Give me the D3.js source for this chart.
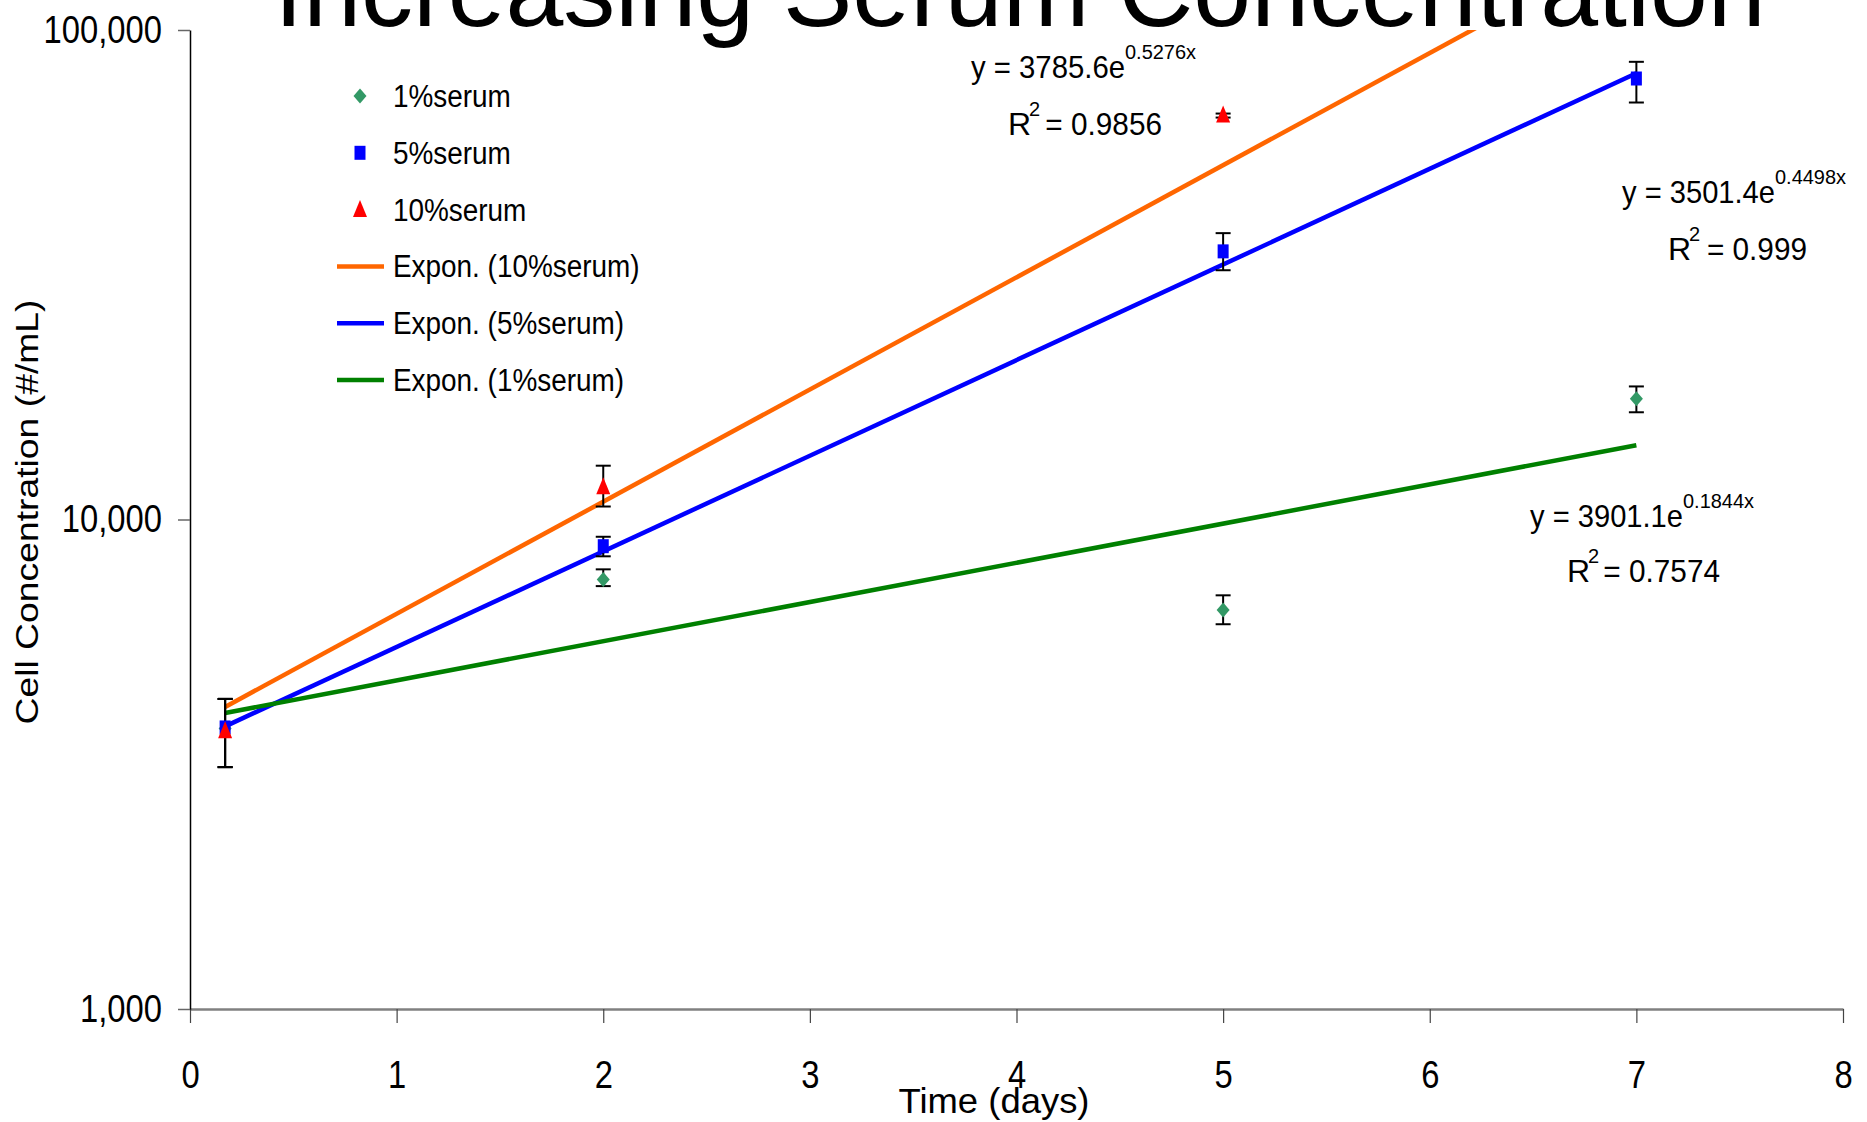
<!DOCTYPE html>
<html>
<head>
<meta charset="utf-8">
<script src="https://cdn.jsdelivr.net/npm/d3@7"></script>
<style>
    body { margin: 0; background: #fff; }
    text { font-family: "Liberation Sans", Arial, sans-serif; fill: #000; }
</style>
</head>
<body>
<div id="chart"></div>
<script>
// cell growth at 1%, 5% and 10% serum, log scale

// svg width and height
const svgWidth = 1867;
const svgHeight = 1122;

// plot box
const margin = { top: 30, right: 24, bottom: 113, left: 190 };
const width = svgWidth - margin.left - margin.right;
const height = svgHeight - margin.top - margin.bottom;

// data
const days = [0.17, 2, 5, 7];
const days10 = [0.17, 2, 5];

const serum1 = [3740, 7545, 6530, 17650];
const serum1Low = [3120, 7310, 6110, 16560];
const serum1High = [4300, 7910, 7000, 18700];

const serum5 = [3760, 8820, 35300, 79600];
const serum5Low = [3120, 8410, 32300, 71100];
const serum5High = [4300, 9220, 38460, 86100];

const serum10 = [3700, 11670, 67080];
const serum10Low = [3120, 10630, 66240];
const serum10High = [4300, 12880, 67500];

// trendline equations as printed on the chart
const fitNames = ["10%serum", "5%serum", "1%serum"];
const fitA = [3785.6, 3501.4, 3901.1];
const fitB = [0.5276, 0.4498, 0.1844];
const fitR2 = ["0.9856", "0.999", "0.7574"];

const xTicks = [0, 1, 2, 3, 4, 5, 6, 7, 8];
const yTicks = [1000, 10000, 100000];

const svg = d3.select("#chart")
    .append("svg")
    .attr("width", svgWidth)
    .attr("height", svgHeight);

// squeeze text a little, the original fonts are narrow
function squeeze(sel, k) {
    sel.each(function() {
        const w = this.getComputedTextLength();
        d3.select(this)
            .attr("textLength", w * k)
            .attr("lengthAdjust", "spacingAndGlyphs");
    });
}

// title, mostly cut off at the top
svg.append("text")
    .attr("x", 1020)
    .attr("y", 26)
    .attr("text-anchor", "middle")
    .attr("font-size", 104)
    .text("Increasing Serum Concentration");

const chartGroup = svg.append("g")
    .attr("transform", `translate(${margin.left}, ${margin.top})`);

svg.append("defs").append("clipPath")
    .attr("id", "plotClip")
    .append("rect")
    .attr("width", width)
    .attr("height", height);

const xScale = d3.scaleLinear()
    .domain([0, 8])
    .range([0, width]);

const yScale = d3.scaleLog()
    .domain([1000, 100000])
    .range([height, 0]);

// axes
const bottomAxis = d3.axisBottom(xScale)
    .tickValues(xTicks)
    .tickSize(14)
    .tickPadding(37)
    .tickSizeOuter(0);

const leftAxis = d3.axisLeft(yScale)
    .tickValues(yTicks)
    .tickFormat(d3.format(","))
    .tickSize(12)
    .tickPadding(16)
    .tickSizeOuter(0);

const xAxis = chartGroup.append("g")
    .attr("transform", `translate(0, ${height})`)
    .call(bottomAxis);

xAxis.select(".domain").attr("stroke", "#808080").attr("stroke-width", 2.5);
xAxis.selectAll(".tick line").attr("stroke", "#444").attr("stroke-width", 1.2);
xAxis.selectAll(".tick text")
    .attr("font-size", 39)
    .attr("fill", "#000")
    .attr("font-family", "Liberation Sans, Arial, sans-serif")
    .call(squeeze, 0.84);

const yAxis = chartGroup.append("g")
    .call(leftAxis);

yAxis.select(".domain").attr("stroke", "#000").attr("stroke-width", 1.5);
yAxis.selectAll(".tick line").attr("stroke", "#666").attr("stroke-width", 1.5);
yAxis.selectAll(".tick text")
    .attr("font-size", 39)
    .attr("fill", "#000")
    .attr("font-family", "Liberation Sans, Arial, sans-serif")
    .call(squeeze, 0.84);

// axis titles
svg.append("text")
    .attr("x", 994)
    .attr("y", 1113)
    .attr("text-anchor", "middle")
    .attr("font-size", 35)
    .attr("textLength", 191)
    .attr("lengthAdjust", "spacingAndGlyphs")
    .text("Time (days)");

svg.append("text")
    .attr("transform", "translate(38, 512) rotate(-90)")
    .attr("text-anchor", "middle")
    .attr("font-size", 32)
    .attr("textLength", 425)
    .attr("lengthAdjust", "spacingAndGlyphs")
    .text("Cell Concentration (#/mL)");

// trendlines, straight on a log axis
const fitColors = ["#FF6600", "#0000FF", "#008000"];
const line = d3.line()
    .x(d => xScale(d[0]))
    .y(d => yScale(d[1]));

const plotGroup = chartGroup.append("g")
    .attr("clip-path", "url(#plotClip)");

fitA.forEach(function(a, i) {
    const pts = [0.17, 7].map(x => [x, a * Math.exp(fitB[i] * x)]);
    plotGroup.append("path")
        .datum(pts)
        .attr("d", line)
        .attr("fill", "none")
        .attr("stroke", fitColors[i])
        .attr("stroke-width", 4.5);
});

// marker shapes
const diamond = "M0,-7.5L6.5,0L0,7.5L-6.5,0Z";
const square = "M-5.5,-7L5.5,-7L5.5,7L-5.5,7Z";
const triangle = "M0,-9.5L7,7.5L-7,7.5Z";

const series = [
    { x: days, y: serum1, lo: serum1Low, hi: serum1High, shape: diamond, color: "#339966" },
    { x: days, y: serum5, lo: serum5Low, hi: serum5High, shape: square, color: "#0000FF" },
    { x: days10, y: serum10, lo: serum10Low, hi: serum10High, shape: triangle, color: "#FF0000" }
];

// error bars
series.forEach(function(s) {
    const bars = plotGroup.append("g")
        .attr("stroke", "#000")
        .attr("stroke-width", 2);
    s.x.forEach(function(x, i) {
        const cx = xScale(x);
        bars.append("line")
            .attr("x1", cx).attr("x2", cx)
            .attr("y1", yScale(s.lo[i])).attr("y2", yScale(s.hi[i]));
        [s.lo[i], s.hi[i]].forEach(function(v) {
            bars.append("line")
                .attr("x1", cx - 7.5).attr("x2", cx + 7.5)
                .attr("y1", yScale(v)).attr("y2", yScale(v));
        });
    });
});

// points
series.forEach(function(s) {
    plotGroup.append("g")
        .selectAll("path")
        .data(s.y)
        .enter()
        .append("path")
        .attr("transform", (d, i) => `translate(${xScale(s.x[i])}, ${yScale(d)})`)
        .attr("d", s.shape)
        .attr("fill", s.color);
});

// equations
const eqPos = [
    { x: 971, y: 78, w: 154, rx: 1008, ry: 135, rEnd: 1162 },
    { x: 1622, y: 203, w: 153, rx: 1668, ry: 260, rEnd: 1807 },
    { x: 1530, y: 527, w: 153, rx: 1567, ry: 582, rEnd: 1720 }
];

eqPos.forEach(function(p, i) {
    svg.append("text")
        .attr("x", p.x)
        .attr("y", p.y)
        .attr("font-size", 32)
        .attr("textLength", p.w)
        .attr("lengthAdjust", "spacingAndGlyphs")
        .text(`y = ${fitA[i].toFixed(1)}e`);
    svg.append("text")
        .attr("x", p.x + p.w)
        .attr("y", p.y - 19)
        .attr("font-size", 20)
        .attr("textLength", 71)
        .attr("lengthAdjust", "spacingAndGlyphs")
        .text(`${fitB[i]}x`);

    svg.append("text")
        .attr("x", p.rx)
        .attr("y", p.ry)
        .attr("font-size", 32)
        .text("R");
    svg.append("text")
        .attr("x", p.rx + 21)
        .attr("y", p.ry - 19)
        .attr("font-size", 20)
        .text("2");
    svg.append("text")
        .attr("x", p.rEnd)
        .attr("y", p.ry)
        .attr("text-anchor", "end")
        .attr("font-size", 32)
        .text(`= ${fitR2[i]}`)
        .call(squeeze, 0.93);
});

// legend
const legendRows = [
    { label: "1%serum", shape: diamond, color: "#339966" },
    { label: "5%serum", shape: square, color: "#0000FF" },
    { label: "10%serum", shape: triangle, color: "#FF0000" },
    { label: "Expon. (10%serum)", color: "#FF6600" },
    { label: "Expon. (5%serum)", color: "#0000FF" },
    { label: "Expon. (1%serum)", color: "#008000" }
];

const legend = svg.append("g");

legendRows.forEach(function(r, i) {
    const y = 96 + i * 56.8;
    if (r.shape) {
        legend.append("path")
            .attr("transform", `translate(360, ${y})`)
            .attr("d", r.shape)
            .attr("fill", r.color);
    }
    else {
        legend.append("line")
            .attr("x1", 337).attr("x2", 384)
            .attr("y1", y).attr("y2", y)
            .attr("stroke", r.color)
            .attr("stroke-width", 4.5);
    }
    legend.append("text")
        .attr("x", 393)
        .attr("y", y + 11)
        .attr("font-size", 31)
        .text(r.label)
        .call(squeeze, 0.9);
});
</script>
</body>
</html>
